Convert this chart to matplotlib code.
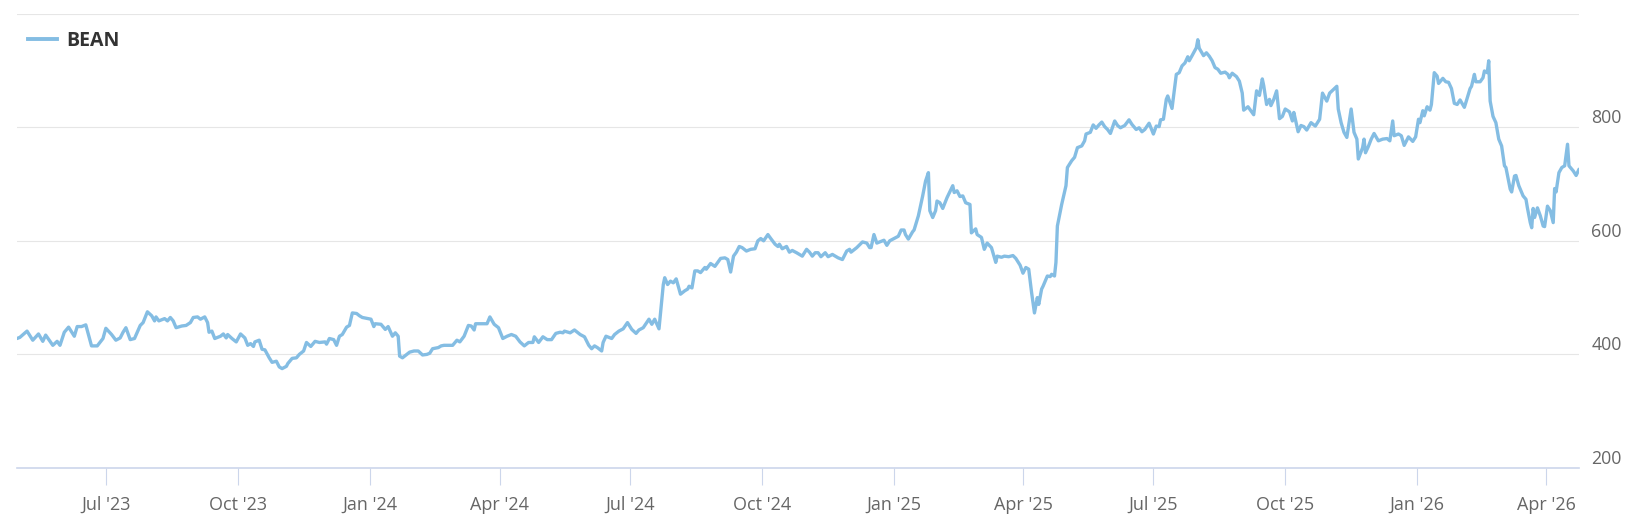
import matplotlib
matplotlib.use("Agg")
import matplotlib.pyplot as plt
from matplotlib.lines import Line2D
import pandas as pd

series_name = "BEAN"

dates = [
    "2023-04-30", "2023-05-02", "2023-05-07", "2023-05-11", "2023-05-15", "2023-05-18", "2023-05-20", "2023-05-25",
    "2023-05-28", "2023-05-30", "2023-06-02", "2023-06-05", "2023-06-09", "2023-06-11", "2023-06-14", "2023-06-17",
    "2023-06-21", "2023-06-25", "2023-06-29", "2023-07-01", "2023-07-05", "2023-07-08", "2023-07-11", "2023-07-13",
    "2023-07-15", "2023-07-18", "2023-07-21", "2023-07-25", "2023-07-27", "2023-07-30", "2023-08-02", "2023-08-04",
    "2023-08-05", "2023-08-07", "2023-08-11", "2023-08-13", "2023-08-15", "2023-08-17", "2023-08-19", "2023-08-23",
    "2023-08-26", "2023-08-29", "2023-08-31", "2023-09-03", "2023-09-05", "2023-09-08", "2023-09-10", "2023-09-11",
    "2023-09-13", "2023-09-15", "2023-09-19", "2023-09-21", "2023-09-23", "2023-09-24", "2023-09-27", "2023-09-30",
    "2023-10-03", "2023-10-06", "2023-10-08", "2023-10-10", "2023-10-12", "2023-10-13", "2023-10-16", "2023-10-18",
    "2023-10-20", "2023-10-23", "2023-10-25", "2023-10-28", "2023-10-30", "2023-11-01", "2023-11-04", "2023-11-05",
    "2023-11-08", "2023-11-11", "2023-11-13", "2023-11-16", "2023-11-18", "2023-11-21", "2023-11-24", "2023-11-27",
    "2023-12-01", "2023-12-02", "2023-12-04", "2023-12-07", "2023-12-09", "2023-12-11", "2023-12-13", "2023-12-16",
    "2023-12-18", "2023-12-20", "2023-12-23", "2023-12-25", "2023-12-27", "2023-12-31", "2024-01-02", "2024-01-04",
    "2024-01-05", "2024-01-09", "2024-01-12", "2024-01-14", "2024-01-17", "2024-01-19", "2024-01-21", "2024-01-22",
    "2024-01-24", "2024-01-27", "2024-01-29", "2024-02-01", "2024-02-04", "2024-02-07", "2024-02-10", "2024-02-12",
    "2024-02-14", "2024-02-18", "2024-02-20", "2024-02-22", "2024-02-28", "2024-03-02", "2024-03-04", "2024-03-07",
    "2024-03-10", "2024-03-12", "2024-03-14", "2024-03-15", "2024-03-20", "2024-03-23", "2024-03-25", "2024-03-28",
    "2024-03-31", "2024-04-03", "2024-04-06", "2024-04-09", "2024-04-12", "2024-04-15", "2024-04-18", "2024-04-21",
    "2024-04-24", "2024-04-25", "2024-04-28", "2024-05-01", "2024-05-04", "2024-05-07", "2024-05-10", "2024-05-13",
    "2024-05-15", "2024-05-16", "2024-05-20", "2024-05-23", "2024-05-27", "2024-05-30", "2024-06-02", "2024-06-04",
    "2024-06-06", "2024-06-08", "2024-06-11", "2024-06-12", "2024-06-14", "2024-06-18", "2024-06-20", "2024-06-23",
    "2024-06-26", "2024-06-29", "2024-07-02", "2024-07-05", "2024-07-07", "2024-07-10", "2024-07-14", "2024-07-16",
    "2024-07-18", "2024-07-21", "2024-07-24", "2024-07-25", "2024-07-27", "2024-07-29", "2024-07-31", "2024-08-02",
    "2024-08-04", "2024-08-05", "2024-08-08", "2024-08-10", "2024-08-11", "2024-08-13", "2024-08-15", "2024-08-17",
    "2024-08-19", "2024-08-22", "2024-08-23", "2024-08-26", "2024-08-29", "2024-09-02", "2024-09-05", "2024-09-07",
    "2024-09-09", "2024-09-11", "2024-09-13", "2024-09-15", "2024-09-17", "2024-09-20", "2024-09-23", "2024-09-26",
    "2024-09-28", "2024-09-30", "2024-10-02", "2024-10-05", "2024-10-07", "2024-10-10", "2024-10-12", "2024-10-13",
    "2024-10-15", "2024-10-18", "2024-10-20", "2024-10-22", "2024-10-25", "2024-10-29", "2024-11-01", "2024-11-03",
    "2024-11-05", "2024-11-07", "2024-11-09", "2024-11-11", "2024-11-14", "2024-11-16", "2024-11-19", "2024-11-23",
    "2024-11-26", "2024-11-29", "2024-12-01", "2024-12-02", "2024-12-06", "2024-12-10", "2024-12-13", "2024-12-15",
    "2024-12-16", "2024-12-18", "2024-12-20", "2024-12-22", "2024-12-25", "2024-12-27", "2024-12-29", "2025-01-01",
    "2025-01-04", "2025-01-06", "2025-01-08", "2025-01-09", "2025-01-11", "2025-01-14", "2025-01-15", "2025-01-18",
    "2025-01-21", "2025-01-23", "2025-01-25", "2025-01-26", "2025-01-28", "2025-01-30", "2025-01-31", "2025-02-02",
    "2025-02-04", "2025-02-07", "2025-02-11", "2025-02-12", "2025-02-14", "2025-02-16", "2025-02-18", "2025-02-20",
    "2025-02-23", "2025-02-24", "2025-02-27", "2025-02-28", "2025-03-03", "2025-03-05", "2025-03-07", "2025-03-10",
    "2025-03-13", "2025-03-14", "2025-03-17", "2025-03-19", "2025-03-22", "2025-03-25", "2025-03-27", "2025-03-30",
    "2025-04-01", "2025-04-03", "2025-04-05", "2025-04-07", "2025-04-09", "2025-04-11", "2025-04-12", "2025-04-14",
    "2025-04-15", "2025-04-18", "2025-04-20", "2025-04-21", "2025-04-23", "2025-04-24", "2025-04-25", "2025-04-28",
    "2025-05-01", "2025-05-02", "2025-05-05", "2025-05-07", "2025-05-09", "2025-05-12", "2025-05-14", "2025-05-15",
    "2025-05-18", "2025-05-20", "2025-05-22", "2025-05-24", "2025-05-26", "2025-05-28", "2025-05-30", "2025-06-01",
    "2025-06-04", "2025-06-06", "2025-06-08", "2025-06-11", "2025-06-14", "2025-06-16", "2025-06-19", "2025-06-21",
    "2025-06-23", "2025-06-25", "2025-06-28", "2025-07-01", "2025-07-03", "2025-07-05", "2025-07-06", "2025-07-08",
    "2025-07-10", "2025-07-11", "2025-07-14", "2025-07-17", "2025-07-19", "2025-07-21", "2025-07-23", "2025-07-25",
    "2025-07-26", "2025-07-28", "2025-07-31", "2025-08-01", "2025-08-02", "2025-08-05", "2025-08-07", "2025-08-09",
    "2025-08-11", "2025-08-13", "2025-08-15", "2025-08-17", "2025-08-20", "2025-08-22", "2025-08-23", "2025-08-25",
    "2025-08-28", "2025-08-30", "2025-09-01", "2025-09-02", "2025-09-05", "2025-09-07", "2025-09-09", "2025-09-11",
    "2025-09-13", "2025-09-15", "2025-09-16", "2025-09-18", "2025-09-20", "2025-09-21", "2025-09-23", "2025-09-25",
    "2025-09-27", "2025-09-29", "2025-10-01", "2025-10-04", "2025-10-06", "2025-10-07", "2025-10-10", "2025-10-12",
    "2025-10-14", "2025-10-16", "2025-10-19", "2025-10-22", "2025-10-25", "2025-10-27", "2025-10-30", "2025-11-01",
    "2025-11-06", "2025-11-07", "2025-11-09", "2025-11-11", "2025-11-13", "2025-11-16", "2025-11-18", "2025-11-20",
    "2025-11-21", "2025-11-24", "2025-11-25", "2025-11-26", "2025-11-28", "2025-11-30", "2025-12-02", "2025-12-05",
    "2025-12-08", "2025-12-11", "2025-12-13", "2025-12-15", "2025-12-16", "2025-12-19", "2025-12-21", "2025-12-23",
    "2025-12-26", "2025-12-29", "2025-12-31", "2026-01-02", "2026-01-03", "2026-01-05", "2026-01-06", "2026-01-08",
    "2026-01-10", "2026-01-11", "2026-01-13", "2026-01-15", "2026-01-16", "2026-01-19", "2026-01-21", "2026-01-23",
    "2026-01-25", "2026-01-27", "2026-01-29", "2026-01-31", "2026-02-03", "2026-02-04", "2026-02-07", "2026-02-08",
    "2026-02-10", "2026-02-11", "2026-02-14", "2026-02-16", "2026-02-17", "2026-02-19", "2026-02-20", "2026-02-21",
    "2026-02-23", "2026-02-25", "2026-02-27", "2026-03-01", "2026-03-03", "2026-03-04", "2026-03-07", "2026-03-08",
    "2026-03-10", "2026-03-11", "2026-03-13", "2026-03-16", "2026-03-18", "2026-03-19", "2026-03-21", "2026-03-22",
    "2026-03-23", "2026-03-24", "2026-03-26", "2026-03-28", "2026-03-30", "2026-03-31", "2026-04-02", "2026-04-04",
    "2026-04-06", "2026-04-07", "2026-04-08", "2026-04-10", "2026-04-12", "2026-04-14", "2026-04-16", "2026-04-17",
    "2026-04-20", "2026-04-22", "2026-04-24",
]

values = [
    428, 430, 441, 425, 436, 423, 434, 416,
    423, 416, 439, 448, 432, 449, 449, 452,
    415, 415, 428, 446, 435, 425, 429, 439,
    447, 426, 428, 451, 456, 475, 468, 459,
    466, 459, 463, 459, 465, 459, 447, 450,
    451, 456, 465, 466, 462, 466, 456, 439,
    441, 428, 432, 436, 429, 435, 428, 422,
    436, 429, 416, 419, 414, 422, 425, 409,
    408, 394, 386, 388, 378, 375, 379, 384,
    393, 394, 400, 406, 421, 414, 423, 421,
    422, 418, 428, 426, 416, 432, 435, 448,
    451, 473, 472, 468, 465, 463, 462, 449,
    454, 453, 444, 449, 432, 438, 432, 397,
    394, 400, 404, 406, 406, 399, 400, 402,
    410, 412, 415, 416, 416, 425, 422, 432,
    451, 450, 443, 454, 454, 454, 466, 453,
    447, 428, 432, 435, 432, 422, 415, 421,
    421, 431, 421, 431, 426, 426, 437, 439,
    438, 441, 438, 443, 435, 431, 416, 410,
    415, 412, 406, 421, 432, 428, 435, 441,
    445, 456, 444, 437, 443, 447, 462, 453,
    462, 445, 523, 535, 523, 529, 526, 533,
    515, 506, 512, 515, 520, 517, 547, 547,
    544, 553, 550, 560, 555, 569, 570, 567,
    545, 573, 580, 590, 588, 582, 585, 586,
    600, 604, 600, 611, 604, 594, 590, 594,
    586, 590, 580, 583, 579, 573, 585, 580,
    573, 579, 579, 572, 579, 572, 576, 570,
    567, 582, 585, 580, 588, 598, 596, 588,
    588, 611, 596, 598, 601, 592, 600, 604,
    608, 619, 619, 611, 603, 616, 619, 644,
    679, 705, 720, 653, 641, 653, 670, 667,
    657, 676, 697, 685, 688, 678, 679, 667,
    664, 614, 621, 611, 606, 585, 596, 588,
    562, 573, 571, 573, 572, 574, 569, 557,
    543, 553, 550, 509, 473, 500, 488, 515,
    520, 538, 537, 541, 538, 562, 626, 664,
    697, 729, 741, 747, 764, 767, 776, 788,
    791, 804, 798, 804, 809, 801, 796, 789,
    811, 803, 799, 803, 813, 805, 796, 799,
    792, 796, 807, 788, 802, 801, 813, 814,
    849, 855, 833, 893, 896, 908, 913, 924,
    917, 926, 940, 954, 939, 926, 931, 925,
    917, 905, 902, 895, 897, 893, 887, 895,
    889, 881, 860, 830, 836, 829, 822, 864,
    856, 885, 873, 840, 849, 838, 849, 864,
    815, 819, 832, 827, 811, 826, 792, 803,
    801, 795, 808, 802, 814, 860, 846, 860,
    872, 832, 808, 791, 782, 832, 791, 779,
    744, 764, 779, 755, 766, 779, 789, 776,
    779, 780, 776, 811, 785, 788, 785, 768,
    783, 775, 783, 814, 808, 829, 820, 836,
    830, 840, 896, 890, 877, 886, 880, 879,
    868, 842, 840, 848, 835, 843, 868, 872,
    893, 880, 880, 887, 899, 896, 917, 846,
    819, 808, 779, 767, 732, 729, 691, 686,
    714, 715, 697, 679, 673, 658, 632, 623,
    657, 641, 658, 644, 626, 625, 661, 653,
    632, 692, 686, 720, 729, 732, 770, 732,
    723, 715, 726,
]

tick_dates = ["2023-07-01", "2023-10-01", "2024-01-01", "2024-04-01", "2024-07-01", "2024-10-01",
              "2025-01-01", "2025-04-01", "2025-07-01", "2025-10-01", "2026-01-01", "2026-04-01"]
tick_labels = ["Jul '23", "Oct '23", "Jan '24", "Apr '24", "Jul '24", "Oct '24",
               "Jan '25", "Apr '25", "Jul '25", "Oct '25", "Jan '26", "Apr '26"]
y_ticks = [200, 400, 600, 800, 1000]
y_tick_labels = ["200", "400", "600", "800", ""]

plt.rcParams['font.family'] = ['Open Sans', 'DejaVu Sans']

W, H = 1636, 526
fig = plt.figure(figsize=(W / 100, H / 100), dpi=100)
fig.patch.set_facecolor('white')
ax = fig.add_axes([17 / W, 1 - 468 / H, (1579 - 17) / W, (468 - 13.6) / H])

x = pd.to_datetime(dates)
line_color = "#84bde3"
ax.plot(x, values, color=line_color, lw=2.4, solid_joinstyle='round', solid_capstyle='round', zorder=3)

ax.set_xlim(x[0], x[-1])
ax.set_ylim(200, 1000)

ax.set_yticks(y_ticks)
ax.set_yticklabels(y_tick_labels)
ax.yaxis.tick_right()
ax.grid(axis='y', color='#e6e6e6', lw=0.8, zorder=0)
ax.tick_params(axis='y', length=0, pad=9, labelsize=12.8, labelcolor='#666666')
for lbl in ax.get_yticklabels():
    lbl.set_va('bottom')

ax.set_xticks(pd.to_datetime(tick_dates))
ax.set_xticklabels(tick_labels)
ax.tick_params(axis='x', length=12, width=0.8, color='#ccd6eb', pad=8,
               labelsize=13, labelcolor='#666666')

for s in ['top', 'right', 'left']:
    ax.spines[s].set_visible(False)
ax.spines['bottom'].set_color('#ccd6eb')
ax.spines['bottom'].set_linewidth(1.2)
ax.set_axisbelow(True)

handle = Line2D([], [], color=line_color, lw=2.8)
fig.legend([handle], [series_name], loc='upper left', bbox_to_anchor=(28 / W, 1 - 31 / H),
           frameon=False, borderpad=0, borderaxespad=0, handlelength=1.5, handletextpad=0.45,
           prop={'size': 14, 'weight': 'bold'}, labelcolor='#333333')

fig.savefig('out.png', dpi=100, facecolor='white')
